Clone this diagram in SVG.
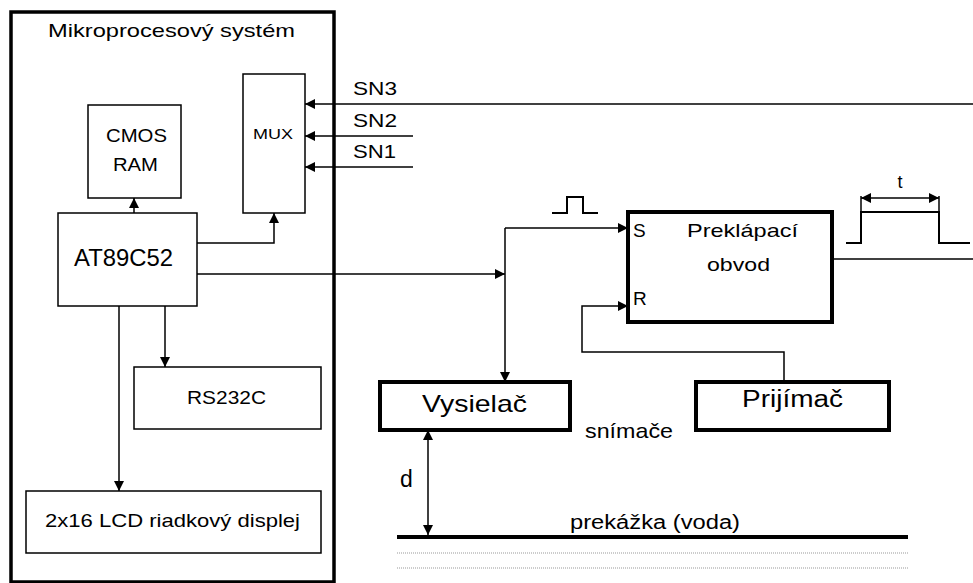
<svg xmlns="http://www.w3.org/2000/svg" width="973" height="583" viewBox="0 0 973 583">
<style>
text{font-family:"Liberation Sans",Arial,sans-serif;fill:#000}
.thin{fill:#fff;stroke:#000;stroke-width:1.5}
.thick{fill:#fff;stroke:#000;stroke-width:4}
.ln{fill:none;stroke:#000;stroke-width:1.5}
.ar{fill:none;stroke:#000;stroke-width:1.5;marker-end:url(#ah)}
.dot{fill:none;stroke:#999;stroke-width:1;stroke-dasharray:1 1}
</style>
<defs>
<marker id="ah" viewBox="0 0 10 10" refX="10" refY="5" markerWidth="10" markerHeight="10" markerUnits="userSpaceOnUse" orient="auto-start-reverse">
<path d="M0,0 L10,5 L0,10 z" fill="#000"/>
</marker>
</defs>
<rect width="973" height="583" fill="#fff"/>

<g id="system">
<rect x="11" y="12" width="323" height="570" fill="none" stroke="#000" stroke-width="3.5"/>
<text x="171.5" y="37" font-size="19" text-anchor="middle" textLength="247" lengthAdjust="spacingAndGlyphs">Mikroprocesový systém</text>
</g>

<g id="cmos">
<rect class="thin" x="88" y="105" width="93" height="93"/>
<text x="136.5" y="142" font-size="19" text-anchor="middle" textLength="61" lengthAdjust="spacingAndGlyphs">CMOS</text>
<text x="135.5" y="171" font-size="19" text-anchor="middle" textLength="45" lengthAdjust="spacingAndGlyphs">RAM</text>
</g>

<g id="mux">
<rect class="thin" x="243" y="74" width="62" height="139"/>
<text x="273" y="139" font-size="15" text-anchor="middle" textLength="40" lengthAdjust="spacingAndGlyphs">MUX</text>
</g>

<g id="at89c52">
<rect class="thin" x="58" y="213" width="139" height="93"/>
<text x="123.5" y="266" font-size="23" text-anchor="middle" textLength="99" lengthAdjust="spacingAndGlyphs">AT89C52</text>
</g>

<g id="rs232c">
<rect class="thin" x="134" y="367" width="187" height="62"/>
<text x="226.5" y="404" font-size="19" text-anchor="middle" textLength="79" lengthAdjust="spacingAndGlyphs">RS232C</text>
</g>

<g id="lcd">
<rect class="thin" x="26" y="491" width="295" height="62"/>
<text x="172.5" y="527" font-size="19" text-anchor="middle" textLength="255" lengthAdjust="spacingAndGlyphs">2x16 LCD riadkový displej</text>
</g>

<g id="preklapaci">
<rect class="thick" x="628" y="212" width="204" height="110"/>
<text x="742.5" y="237" font-size="19" text-anchor="middle" textLength="111" lengthAdjust="spacingAndGlyphs">Preklápací</text>
<text x="738.5" y="271" font-size="19" text-anchor="middle" textLength="63" lengthAdjust="spacingAndGlyphs">obvod</text>
<text x="633" y="237" font-size="19">S</text>
<text x="633" y="305" font-size="19">R</text>
</g>

<g id="vysielac">
<rect class="thick" x="380" y="382" width="190" height="48"/>
<text x="474.5" y="412" font-size="24" text-anchor="middle" textLength="105" lengthAdjust="spacingAndGlyphs">Vysielač</text>
</g>

<g id="prijimac">
<rect class="thick" x="696" y="382" width="193" height="48"/>
<text x="792.5" y="407" font-size="23" text-anchor="middle" textLength="101" lengthAdjust="spacingAndGlyphs">Prijímač</text>
</g>

<g id="labels">
<text x="353" y="95" font-size="18" textLength="44" lengthAdjust="spacingAndGlyphs">SN3</text>
<text x="353" y="127" font-size="18" textLength="44" lengthAdjust="spacingAndGlyphs">SN2</text>
<text x="353" y="158" font-size="18" textLength="43" lengthAdjust="spacingAndGlyphs">SN1</text>
<text x="585" y="438" font-size="21" textLength="88" lengthAdjust="spacingAndGlyphs">snímače</text>
<text x="400" y="487" font-size="23">d</text>
<text x="570" y="529" font-size="20" textLength="170" lengthAdjust="spacingAndGlyphs">prekážka (voda)</text>
<text x="900" y="188" font-size="18" text-anchor="middle">t</text>
</g>

<g id="obstacle">
<line x1="397" y1="537" x2="908" y2="537" stroke="#000" stroke-width="4"/>
<line class="dot" x1="397" y1="553" x2="908" y2="553"/>
<line class="dot" x1="397" y1="568" x2="908" y2="568"/>
</g>

<g id="connectors">
<line class="ar" x1="134" y1="213" x2="134" y2="198"/>
<polyline class="ar" points="197,243 274,243 274,213"/>
<line class="ar" x1="119" y1="306" x2="119" y2="491"/>
<line class="ar" x1="165" y1="306" x2="165" y2="367"/>
<line class="ar" x1="973" y1="104" x2="305" y2="104"/>
<line class="ar" x1="413" y1="136" x2="305" y2="136"/>
<line class="ar" x1="413" y1="167" x2="305" y2="167"/>
<line class="ar" x1="197" y1="274" x2="505" y2="274"/>
<polyline class="ar" points="505,228 628,228"/>
<line class="ar" x1="505" y1="228" x2="505" y2="382"/>
<polyline class="ar" points="784,382 784,352 582,352 582,306 628,306"/>
<line class="ln" x1="832" y1="259" x2="973" y2="259"/>
<line class="ar" x1="428" y1="483" x2="428" y2="430"/>
<line class="ar" x1="428" y1="483" x2="428" y2="535"/>
<line class="ar" x1="900" y1="198" x2="861" y2="198"/>
<line class="ar" x1="900" y1="198" x2="939" y2="198"/>
<line class="ln" x1="861" y1="196" x2="861" y2="212"/>
<line class="ln" x1="939" y1="196" x2="939" y2="212"/>
<polyline fill="none" stroke="#000" stroke-width="2" points="846,243 861,243 861,212 939,212 939,243 970,243"/>
<polyline fill="none" stroke="#000" stroke-width="2" points="552,213 567,213 567,197 583,197 583,213 598,213"/>
</g>
</svg>
